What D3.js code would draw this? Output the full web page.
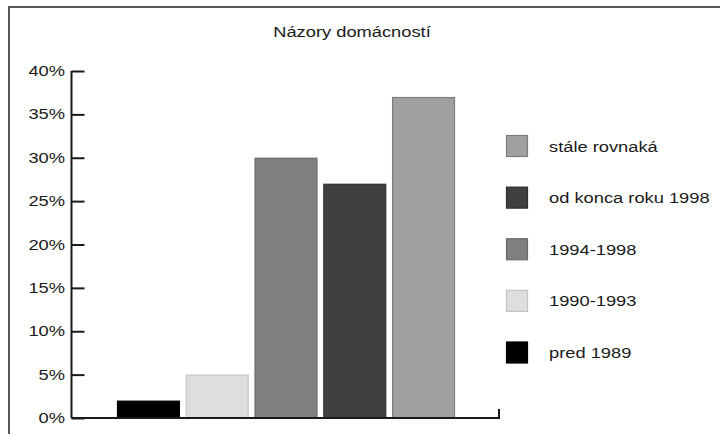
<!DOCTYPE html>
<html><head><meta charset="utf-8">
<script src="https://cdn.jsdelivr.net/npm/d3@7"></script>
<style>body{margin:0;background:#fff}svg{display:block}text{font-family:"Liberation Sans",Arial,sans-serif;fill:#1a1a1a}</style>
</head><body>
<script>
const title = "Názory domácností";
const categories = ["pred 1989", "1990-1993", "1994-1998", "od konca roku 1998", "stále rovnaká"];
const values = [2, 5, 30, 27, 37];
const colors = ["#000000", "#dedede", "#808080", "#404040", "#a0a0a0"];
const strokes = ["#000000", "#c4c4c4", "#6a6a6a", "#303030", "#7c7c7c"];
const yTicks = [0, 5, 10, 15, 20, 25, 30, 35, 40];
const legendOrder = ["stále rovnaká", "od konca roku 1998", "1994-1998", "1990-1993", "pred 1989"];

const W = 720, H = 434, sx = 1.22;
const svg = d3.select("body").append("svg").attr("width", W).attr("height", H);

// outer frame
svg.append("rect").attr("x", 9).attr("y", 7).attr("width", 760).attr("height", 460)
  .attr("fill", "none").attr("stroke", "#555").attr("stroke-width", 2);

// title
svg.append("text").attr("transform", `translate(352,37) scale(${sx},1)`)
  .attr("text-anchor", "middle").attr("font-size", 15).text(title);

const y = d3.scaleLinear().domain([0, 40]).range([418, 71]);
const x = d3.scaleBand().domain(categories).range([117, 455]).paddingInner(0.085).paddingOuter(0);
const color = d3.scaleOrdinal().domain(categories).range(colors);
const stroke = d3.scaleOrdinal().domain(categories).range(strokes);

// bars
svg.append("g").selectAll("rect").data(categories).join("rect")
  .attr("x", d => x(d) + 0.5).attr("width", x.bandwidth() - 1)
  .attr("y", (d, i) => y(values[i]) + 0.5)
  .attr("height", (d, i) => y(0) - y(values[i]) - 0.5)
  .attr("fill", d => color(d)).attr("stroke", d => stroke(d)).attr("stroke-width", 1.2);

// y axis
const yAxis = d3.axisRight(y).tickValues(yTicks).tickSize(13).tickFormat(() => "");
const gy = svg.append("g").attr("transform", "translate(71.5,0)").call(yAxis);
gy.select(".domain").attr("stroke", "#1a1a1a").attr("stroke-width", 2).attr("d", `M0,${y(40)}V${y(0)}`);
gy.selectAll(".tick line").attr("stroke", "#1a1a1a").attr("stroke-width", 2);
svg.append("g").selectAll("text").data(yTicks).join("text")
  .attr("transform", d => `translate(65,${y(d) + 5}) scale(${sx},1)`)
  .attr("text-anchor", "end").attr("font-size", 15).text(d => d + "%");

// x baseline
svg.append("path").attr("d", `M71.5,${y(0)}H499V${y(0) - 9}`)
  .attr("fill", "none").attr("stroke", "#1a1a1a").attr("stroke-width", 2);

// legend
const ly = d3.scalePoint().domain(legendOrder).range([135, 341.5]);
const lg = svg.append("g").selectAll("g").data(legendOrder).join("g")
  .attr("transform", d => `translate(506,${ly(d)})`);
lg.append("rect").attr("x", 0.5).attr("y", 0.5).attr("width", 21).attr("height", 21)
  .attr("fill", d => color(d)).attr("stroke", d => stroke(d)).attr("stroke-width", 1.2);
lg.append("text").attr("transform", `translate(43,16.5) scale(${sx},1)`)
  .attr("font-size", 15).text(d => d);
</script>
</body></html>
